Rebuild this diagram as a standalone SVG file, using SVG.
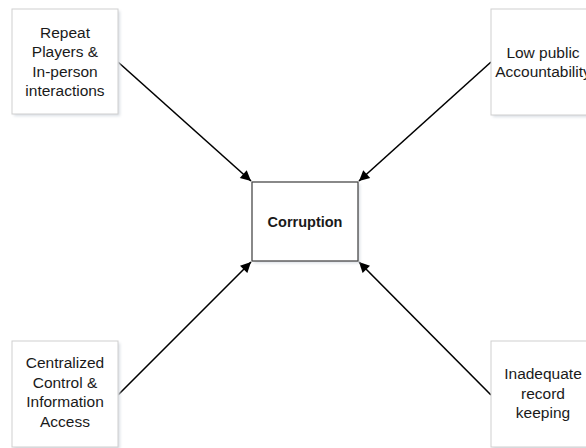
<svg xmlns="http://www.w3.org/2000/svg" width="586" height="448" viewBox="0 0 586 448">
  <defs>
    <style>
      .box { fill: #ffffff; stroke: #cfcfcf; stroke-width: 1; }
      .center { fill: #ffffff; stroke: #4a4a4a; stroke-width: 1.3; }
      .shadow { fill: #d9dee4; filter: url(#blur); }
      .lbl { font-family: "Liberation Sans", Arial, sans-serif; font-size: 15.5px; fill: #1a1a1a; text-anchor: middle; }
      .bold { font-family: "Liberation Sans", Arial, sans-serif; font-size: 14.5px; font-weight: bold; fill: #1a1a1a; text-anchor: middle; }
      .conn { stroke: #000000; stroke-width: 1.6; fill: none; marker-end: url(#arrow); }
    </style>
    <filter id="blur" x="-10%" y="-10%" width="120%" height="120%">
      <feGaussianBlur stdDeviation="1.5"/>
    </filter>
    <marker id="arrow" viewBox="0 0 10 10" refX="10" refY="5" markerWidth="7.5" markerHeight="6.5" markerUnits="strokeWidth" orient="auto">
      <path d="M0,0 L10,5 L0,10 z" fill="#000000"/>
    </marker>
  </defs>
  <rect width="586" height="448" fill="#ffffff"/>

  <g id="connectors">
    <line class="conn" x1="118" y1="62" x2="251" y2="181"/>
    <line class="conn" x1="491" y1="62" x2="359" y2="181"/>
    <line class="conn" x1="118" y1="395" x2="251" y2="262"/>
    <line class="conn" x1="491" y1="395" x2="359" y2="262"/>
  </g>

  <g id="node-repeat">
    <rect class="shadow" x="14" y="11" width="106" height="105"/>
    <rect class="box" x="12" y="9" width="106" height="105"/>
    <text class="lbl" x="65" y="38">Repeat</text>
    <text class="lbl" x="65" y="57.3">Players &amp;</text>
    <text class="lbl" x="65" y="76.6">In-person</text>
    <text class="lbl" x="65" y="96">interactions</text>
  </g>

  <g id="node-accountability">
    <rect class="shadow" x="493" y="11" width="106" height="106"/>
    <rect class="box" x="491" y="9" width="106" height="106"/>
    <text class="lbl" x="543" y="58">Low public</text>
    <text class="lbl" x="543" y="77.4">Accountability</text>
  </g>

  <g id="node-centralized">
    <rect class="shadow" x="14" y="343" width="106" height="106"/>
    <rect class="box" x="12" y="341" width="106" height="106"/>
    <text class="lbl" x="65" y="368">Centralized</text>
    <text class="lbl" x="65" y="387.5">Control &amp;</text>
    <text class="lbl" x="65" y="407">Information</text>
    <text class="lbl" x="65" y="426.5">Access</text>
  </g>

  <g id="node-record">
    <rect class="shadow" x="493" y="343" width="106" height="106"/>
    <rect class="box" x="491" y="341" width="106" height="106"/>
    <text class="lbl" x="543" y="379">Inadequate</text>
    <text class="lbl" x="543" y="398.5">record</text>
    <text class="lbl" x="543" y="418">keeping</text>
  </g>

  <g id="node-corruption">
    <rect class="shadow" x="254" y="184" width="106" height="79"/>
    <rect class="center" x="252" y="182" width="106" height="79"/>
    <text class="bold" x="305" y="227">Corruption</text>
  </g>
</svg>
